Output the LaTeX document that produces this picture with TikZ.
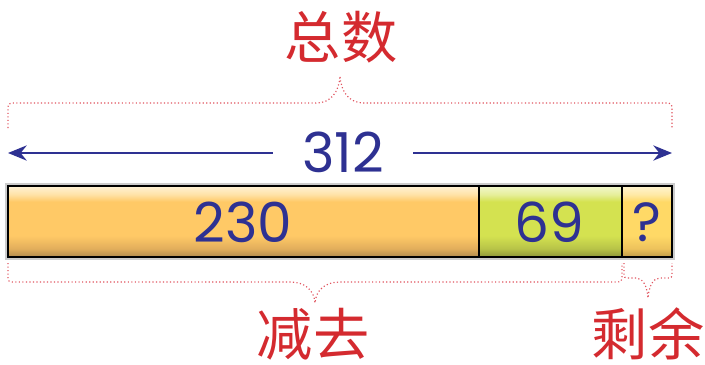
\documentclass[tikz,border=0pt]{standalone}
\usepackage{fontspec}
\usetikzlibrary{arrows.meta, positioning}
\newfontfamily\numfont{Poppins}
\newfontfamily\cjk{Noto Sans CJK SC}
\definecolor{numblue}{HTML}{2E3192}
\definecolor{labelred}{HTML}{D42A2F}
\definecolor{bracered}{HTML}{E05560}
\definecolor{ortop}{HTML}{FFF2D6}
\definecolor{orlight}{HTML}{FFE2A6}
\definecolor{ormid}{HTML}{FFC966}
\definecolor{ordark}{HTML}{E2AE5C}
\definecolor{orbot}{HTML}{B08A4C}
\definecolor{grtop}{HTML}{F2F7CC}
\definecolor{grmid}{HTML}{D4E250}
\definecolor{grdark}{HTML}{B8C448}
\definecolor{grbot}{HTML}{8E9638}
\definecolor{yetop}{HTML}{FFF4D0}
\definecolor{yemid}{HTML}{FFD966}
\definecolor{yedark}{HTML}{EDC25C}
\definecolor{yebot}{HTML}{C09C48}
\pgfdeclareverticalshading{orangebar}{100bp}{color(0bp)=(orbot); color(25bp)=(orbot); color(31bp)=(ordark); color(40bp)=(ormid); color(64bp)=(ormid); color(69bp)=(orlight); color(75bp)=(ortop); color(100bp)=(ortop)}
\pgfdeclareverticalshading{greenbar}{100bp}{color(0bp)=(grbot); color(25bp)=(grbot); color(31bp)=(grdark); color(40bp)=(grmid); color(64bp)=(grmid); color(69bp)=(grtop!60!grmid); color(75bp)=(grtop); color(100bp)=(grtop)}
\pgfdeclareverticalshading{yellowbar}{100bp}{color(0bp)=(yebot); color(25bp)=(yebot); color(31bp)=(yedark); color(40bp)=(yemid); color(64bp)=(yemid); color(69bp)=(yetop!60!yemid); color(75bp)=(yetop); color(100bp)=(yetop)}

\begin{document}
\begin{tikzpicture}[x=0.03cm, y=-0.03cm, >=Stealth,
    numtext/.style={text=numblue, inner sep=0pt, font=\numfont\fontsize{47}{52}\selectfont},
    cjktext/.style={text=labelred, inner sep=0pt, font=\cjk\fontsize{48}{52}\selectfont},
    bracedots/.style={draw=bracered, line width=1pt, dotted},
    arrowline/.style={draw=numblue, line width=1.7pt}]
    \useasboundingbox (0,0) rectangle (705,364);

    % total with the two-sided arrow
    \node[cjktext] (title) at (341,37) {总数};
    \node[numtext, minimum width=4.2cm] (total) at (343,152) {312};
    \coordinate (arrowL) at (8,153);
    \coordinate (arrowR) at (672,153);
    \draw[arrowline, -{Stealth[length=16pt, width=13pt]}] (total.west |- arrowL) -- (arrowL);
    \draw[arrowline, -{Stealth[length=16pt, width=13pt]}] (total.east |- arrowR) -- (arrowR);

    % top brace
    \draw[bracedots] (8,128) -- (8,111) .. controls (8,103) .. (16,103) -- (316,103)
        .. controls (331,103) and (339,92) .. (340,76)
        .. controls (341,92) and (349,103) .. (364,103) -- (664,103)
        .. controls (672,103) .. (672,111) -- (672,128);

    % bar
    \shade[shading=orangebar] (8,186) rectangle (479,257);
    \shade[shading=greenbar] (479,186) rectangle (622,257);
    \shade[shading=yellowbar] (622,186) rectangle (672,257);
    \draw[gray!40, line width=1.2pt] (6,184) rectangle (674,259);
    \draw[line width=1.6pt] (8,186) rectangle (672,257);
    \draw[line width=1.6pt] (479,186) -- (479,257);
    \draw[line width=1.6pt] (622,186) -- (622,257);
    \node[numtext] (taken) at (243,222) {230};
    \node[numtext] (more) at (549,222) {69};
    \node[numtext] (rest) at (647,222) {?};

    % bottom braces
    \draw[bracedots] (8,263) -- (8,274) .. controls (8,282) .. (16,282) -- (290,282)
        .. controls (305,282) and (314,290) .. (315,303)
        .. controls (316,290) and (325,282) .. (340,282) -- (614,282)
        .. controls (622,282) .. (622,274) -- (622,263);
    \draw[bracedots] (624,263) -- (624,272) .. controls (624,278) .. (630,278) -- (636,278)
        .. controls (643,278) and (647,286) .. (648,298)
        .. controls (649,286) and (653,278) .. (660,278) -- (666,278)
        .. controls (672,278) .. (672,272) -- (672,263);
    \node[cjktext] (minus) at (313,334) {减去};
    \node[cjktext] (left) at (648,334) {剩余};
\end{tikzpicture}
\end{document}
